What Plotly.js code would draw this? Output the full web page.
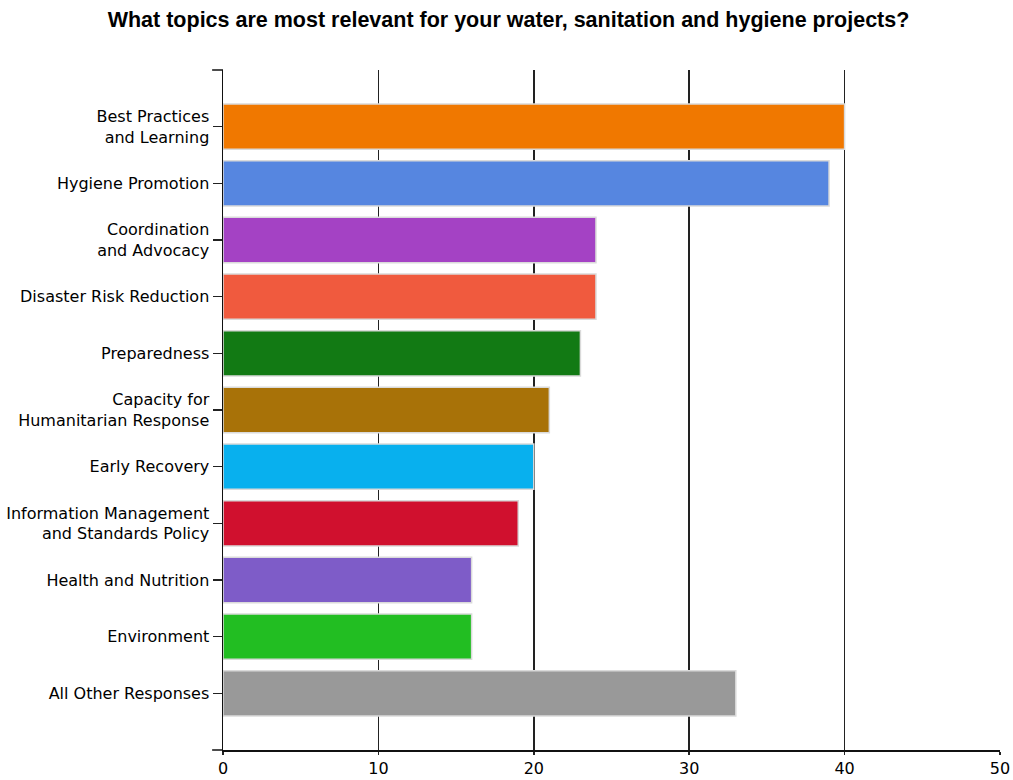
<!DOCTYPE html>
<html>
<head>
<meta charset="utf-8">
<script src="https://cdn.plot.ly/plotly-3.0.1.min.js"></script>
<style>html,body{margin:0;padding:0;background:#fff;}#chart{width:1013px;height:780px;}</style>
</head>
<body>
<div id="chart"></div>
<script>
const categories = [
  "Best Practices<br>and Learning",
  "Hygiene Promotion",
  "Coordination<br>and Advocacy",
  "Disaster Risk Reduction",
  "Preparedness",
  "Capacity for<br>Humanitarian Response",
  "Early Recovery",
  "Information Management<br>and Standards Policy",
  "Health and Nutrition",
  "Environment",
  "All Other Responses"
];
const values = [40, 39, 24, 24, 23, 21, 20, 19, 16, 16, 33];
const barColors = ["#F07800", "#5686E0", "#A442C4", "#F05A3E", "#127A14", "#A87208",
  "#08B0EE", "#D0102E", "#7E5CC8", "#22BE22", "#999999"];
const xTicks = [0, 10, 20, 30, 40, 50];

const font = "Liberation Sans, Arial, sans-serif";
const labelFont = "DejaVu Sans, Verdana, sans-serif";
const trace = {
  type: "bar",
  orientation: "h",
  y: categories,
  x: values,
  marker: {color: barColors, line: {color: "#DADADA", width: 1.5}},
  hoverinfo: "x+y"
};
const layout = {
  width: 1013, height: 780,
  margin: {l: 223, r: 13, t: 70, b: 30},
  paper_bgcolor: "#fff", plot_bgcolor: "#fff",
  title: {text: "<b>What topics are most relevant for your water, sanitation and hygiene projects?</b>",
    font: {family: font, size: 21.5, color: "#000"}, x: 0.502, xanchor: "center", y: 0.975, yanchor: "middle"},
  bargap: 0.2,
  showlegend: false,
  xaxis: {range: [0, 50], tickvals: xTicks, ticktext: xTicks.map(String),
    showgrid: true, gridcolor: "#222", gridwidth: 1.5, zeroline: false,
    showline: true, linecolor: "#111", linewidth: 1.5,
    ticks: "outside", ticklen: 3, tickcolor: "#222", tickwidth: 1.5,
    tickfont: {family: labelFont, size: 16, color: "#000"}, fixedrange: true},
  yaxis: {type: "category", range: [11, -1], showgrid: false, zeroline: false,
    showline: true, linecolor: "#111", linewidth: 1.5,
    ticks: "outside", ticklen: 9, tickcolor: "#222", tickwidth: 1.5,
    tickfont: {family: labelFont, size: 16, color: "#000"}, fixedrange: true},
  shapes: [
    {type: "line", xref: "paper", yref: "paper", x0: -0.014, x1: 0, y0: 1, y1: 1, line: {color: "#111", width: 1.5}},
    {type: "line", xref: "paper", yref: "paper", x0: -0.014, x1: 0, y0: 0, y1: 0, line: {color: "#111", width: 1.5}}
  ]
};
Plotly.newPlot("chart", [trace], layout, {displayModeBar: false, staticPlot: true});
</script>
</body>
</html>
